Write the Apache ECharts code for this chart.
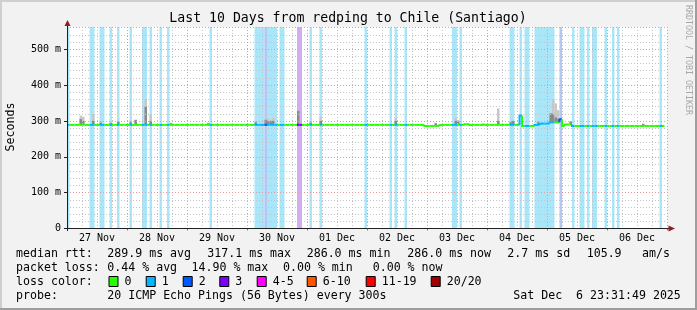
<!DOCTYPE html>
<html><head><meta charset="utf-8">
<script src="https://cdn.jsdelivr.net/npm/echarts@6/dist/echarts.min.js"></script>
<style>html,body{margin:0;padding:0;background:#f2f2f2}#c{width:697px;height:310px}</style>
</head><body><div id="c"></div>
<script>
// ---------------- data (x in hours since 27 Nov 00:00, y in ms) ----------------
const dayLabels = ['27 Nov','28 Nov','29 Nov','30 Nov','01 Dec','02 Dec','03 Dec','04 Dec','05 Dec','06 Dec'];
const yMax = 562;
// loss runs: [startHour, endHour, lossLevelIndex]
const lossRuns = [
  [0,1,1],[9,11,1],[13,15,1],[17,18,1],[20,21,1],[25,26,1],[30,32,1],[33,34,1],[37,38,1],[40,41,1],
  [57,58,1],[75,79,1],[79,80,2],[80,84,1],[85,87,1],[92,94,3],[97,98,1],[101,102,1],[119,120,1],
  [129,130,1],[131,132,1],[135,136,1],[154,156,1],[157,158,1],[177,179,1],[181,182,1],[183,185,1],
  [187,192,1],[192,195,1],[197,198,2],[202,203,1],[205,207,1],[208,209,1],[210,212,1],[215,216,1],
  [218,219,1],[220,221,1],[237,238,1]
];
// median rtt runs: [startHour, endHour, ms]
const medianRuns = [
  [0,143,289],[143,149,286],[149,159,289],[159,161,291],[161,181,289],[181,182,315],[182,187,286],
  [187,189,289],[189,193,292.5],[193,197,296],[197,198,304.5],[198,199,286],[199,202,290],[202,239,286]
];
// smoke: [hour, max ms, upper quartile ms]
const smoke = [
  [5,315,305],[6,312,300],[10,319,300],[13,300,295],[17,298,294],[20,298,298],[25,301,296],[27,303,303],
  [31,361,340],[33,318,300],[41,295,293],[56,295,293],[75,300,296],[79,307,303],[80,307,300],[81,303,300],
  [82,309,300],[92,328,328],[97,300,295],[101,312,300],[131,309,300],[147,295,293],[155,309,300],[156,303,298],
  [166,293,292],[172,335,300],[177,300,296],[178,300,300],[181,312,312],[188,300,296],[193,321,321],
  [194,361,320],[195,349,310],[196,330,305],[201,300,298],[230,293,291]
];
const lossLabels = ['0','1','2','3','4-5','6-10','11-19','20/20'];
const lossColors = ['#26ff00','#00b8ff','#0059ff','#7e00ff','#ff00ff','#ff5500','#ff0000','#a10000'];
const lossBandColors = ['#ffffff','#aae6fa','#b2c6f7','#d3abf7','#ffb0ff','#ffc8a8','#ffb0b0','#e0a0a0'];
const statsRtt = ['289.9 ms avg','317.1 ms max','286.0 ms min','286.0 ms now','2.7 ms sd','105.9','am/s'];
const statsLoss = ['0.44 % avg','14.90 % max','0.00 % min','0.00 % now'];

// ---------------- build ----------------
function lossAt(h){ for(const r of lossRuns){ if(h>=r[0]&&h<r[1]) return r[2]; } return 0; }
const medianData = [];
let prev = null;
for(const r of medianRuns){
  for(let h=r[0]; h<r[1]; h++){ medianData.push([h, r[2], prev===null?r[2]:prev, lossAt(h)]); prev=r[2]; }
}
const bandData = lossRuns.map(r=>[r[0], r[1], r[2]]);
const smokeData = smoke.map(s=>[s[0], s[1], s[2], medianData.find(m=>m[0]===s[0])[1]]);

const chart = echarts.init(document.getElementById('c'), null, {renderer:'canvas', width:697, height:310});
const MONO = '"DejaVu Sans Mono", monospace';
const gridMinor = {show:true, lineStyle:{color:'#c4c4c4', width:1, type:[1,2]}};
const gridMajor = {show:true, lineStyle:{color:'#e89a9a', width:1, type:[1,2]}};

const gfx = [];
gfx.push({type:'rect', shape:{x:0,y:0,width:697,height:2}, style:{fill:'#cfcfcf'}, silent:true});
gfx.push({type:'rect', shape:{x:0,y:0,width:2,height:310}, style:{fill:'#cfcfcf'}, silent:true});
gfx.push({type:'rect', shape:{x:695,y:0,width:2,height:310}, style:{fill:'#9e9e9e'}, silent:true});
gfx.push({type:'rect', shape:{x:0,y:308,width:697,height:2}, style:{fill:'#9e9e9e'}, silent:true});
gfx.push({type:'text', x:348, y:19, style:{text:'Last 10 Days from redping to Chile (Santiago)', font:'13.2px '+MONO, fill:'#000', align:'center', verticalAlign:'middle'}});
gfx.push({type:'text', x:11, y:127, rotation:Math.PI/2, style:{text:'Seconds', font:'11.6px '+MONO, fill:'#000', align:'center', verticalAlign:'middle'}});
gfx.push({type:'text', x:688.5, y:60, rotation:-Math.PI/2, style:{text:'RRDTOOL / TOBI OETIKER', font:'8.3px '+MONO, fill:'#a8a8a8', align:'center', verticalAlign:'middle'}});
gfx.push({type:'line', z:20, shape:{x1:67.5,y1:24,x2:67.5,y2:231}, style:{stroke:'#202020', lineWidth:1}});
gfx.push({type:'line', z:20, shape:{x1:64,y1:228.5,x2:671,y2:228.5}, style:{stroke:'#202020', lineWidth:1}});
gfx.push({type:'polygon', z:21, shape:{points:[[64.5,26],[70.5,26],[67.5,20]]}, style:{fill:'#8f1f1f'}});
gfx.push({type:'polygon', z:21, shape:{points:[[668.5,225.5],[668.5,231.5],[675,228.5]]}, style:{fill:'#8f1f1f'}});
const FONT = '11.6px '+MONO;
function txt(x,y,t){ gfx.push({type:'text', x:x, y:y, style:{text:t, font:FONT, fill:'#000', verticalAlign:'middle'}}); }
txt(16,254,'median rtt:');
const rttX = [107.3,207.3,306.7,407.3,507.3,586.7,642];
statsRtt.forEach((t,i)=>txt(rttX[i],254,t));
txt(16,268,'packet loss:');
const lossX = [107.3,191.5,283,372.7];
statsLoss.forEach((t,i)=>txt(lossX[i],268,t));
txt(16,282,'loss color:');
const boxX = [108.5,145.7,182.7,219.3,256.7,306.7,365.7,430.7];
lossLabels.forEach((l,i)=>{
  gfx.push({type:'rect', shape:{x:boxX[i]+0.5,y:276.5,width:9,height:10}, style:{fill:lossColors[i], stroke:'#000', lineWidth:1}});
  txt(boxX[i]+16,282,l);
});
txt(16,296,'probe:');
txt(107.3,296,'20 ICMP Echo Pings (56 Bytes) every 300s');
txt(513.3,296,'Sat Dec  6 23:31:49 2025');

const option = {
  animation:false,
  backgroundColor:'#f2f2f2',
  grid:{left:67, top:27, width:600, height:201.5, show:true, backgroundColor:'#ffffff', borderWidth:0,
        containLabel:false, outerBoundsMode:'none'},
  xAxis:[
    {type:'value', position:'bottom', min:0, max:240, interval:6, z:3,
     axisLine:{show:false}, axisTick:{show:false},
     splitLine:gridMinor,
     axisLabel:{show:true, margin:5, color:'#000', fontFamily:MONO, fontSize:10,
       formatter:v=>(v%24===12? dayLabels[(v-12)/24] : ''), showMinLabel:true, showMaxLabel:true}},
    {type:'value', position:'bottom', min:0, max:240, interval:24, z:4, axisLine:{show:false},
     axisTick:{show:true, length:2, inside:false, lineStyle:{color:'#e05050'}},
     splitLine:gridMajor, axisLabel:{show:false}}
  ],
  yAxis:[
    {type:'value', position:'left', min:0, max:yMax, interval:20, z:3, axisLine:{show:false}, axisTick:{show:false},
     splitLine:gridMinor, axisLabel:{show:false}},
    {type:'value', position:'left', min:0, max:yMax, interval:100, z:4, axisLine:{show:false},
     axisTick:{show:true, length:3, lineStyle:{color:'#202020'}},
     splitLine:gridMajor,
     axisLabel:{show:true, margin:6, color:'#000', fontFamily:MONO, fontSize:10, showMaxLabel:false,
       formatter:v=>(v===0?'0':v+' m')}}
  ],
  series:[
    {type:'custom', name:'loss', xAxisIndex:0, yAxisIndex:0, z:1, data:bandData,
     renderItem:(p,api)=>{
       const a=api.coord([api.value(0), yMax]), b=api.coord([api.value(1), 0]);
       return {type:'rect', shape:{x:a[0], y:a[1], width:b[0]-a[0], height:b[1]-a[1]}, style:{fill:lossBandColors[api.value(2)]}};
     }},
    {type:'custom', name:'smoke', xAxisIndex:0, yAxisIndex:0, z:2, data:smokeData,
     renderItem:(p,api)=>{
       const h=api.value(0);
       const a=api.coord([h, api.value(1)]), b=api.coord([h+1, api.value(3)]);
       const c=api.coord([h, api.value(2)]);
       return {type:'group', children:[
         {type:'rect', shape:{x:a[0], y:a[1], width:b[0]-a[0], height:b[1]-a[1]}, style:{fill:'#c8c8c8'}},
         {type:'rect', shape:{x:a[0], y:c[1], width:b[0]-a[0], height:b[1]-c[1]}, style:{fill:'#8a8a8a'}}
       ]};
     }},
    {type:'custom', name:'median', xAxisIndex:0, yAxisIndex:0, z:6, data:medianData,
     renderItem:(p,api)=>{
       const h=api.value(0), m=api.value(1), pm=api.value(2), l=api.value(3);
       const a=api.coord([h, m]), b=api.coord([h+1, m]), c=api.coord([h, pm]);
       return {type:'polyline', shape:{points:[[a[0],c[1]],[a[0],a[1]],[b[0],b[1]]]}, style:{stroke:lossColors[l], lineWidth:2, fill:null}};
     }}
  ],
  graphic:gfx
};
chart.setOption(option);
</script></body></html>
